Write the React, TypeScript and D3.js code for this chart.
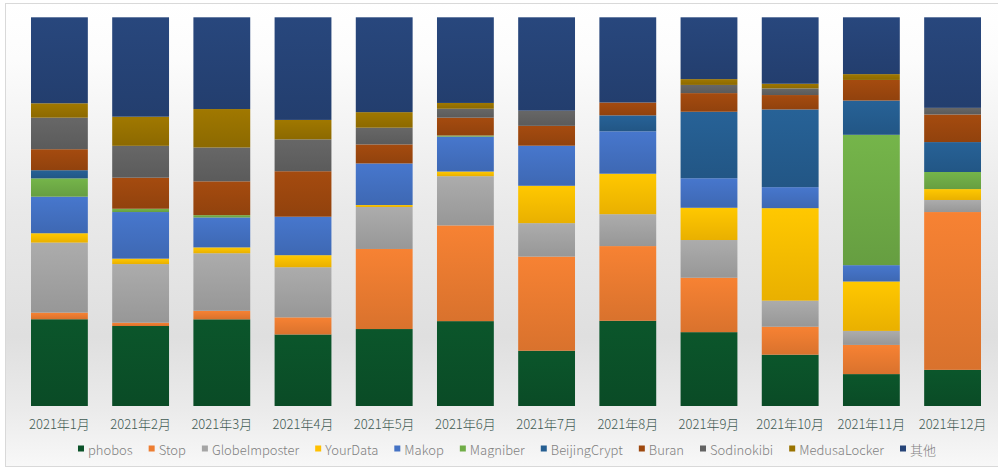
import React, { useEffect, useRef } from "react";
import * as d3 from "d3";

const months = ["2021年1月","2021年2月","2021年3月","2021年4月","2021年5月","2021年6月","2021年7月","2021年8月","2021年9月","2021年10月","2021年11月","2021年12月"];
const seriesNames = ["phobos","Stop","GlobeImposter","YourData","Makop","Magniber","BeijingCrypt","Buran","Sodinokibi","MedusaLocker","其他"];
const seriesColors = ["#0b5229","#ED7D31","#A5A5A5","#FFC000","#4472C4","#70AD47","#255E91","#9E480E","#636363","#997300","#264478"];

const phobos = [22.3,20.6,22.3,18.4,19.8,21.9,14.2,21.9,19.0,13.2,8.2,9.3];
const stop = [1.7,0.85,2.2,4.4,20.6,24.7,24.2,19.2,14.0,7.2,7.5,40.6];
const globeImposter = [18.0,15.1,14.8,12.9,10.8,12.7,8.6,8.2,9.7,6.7,3.6,3.1];
const yourData = [2.4,1.4,1.5,3.1,0.5,1.2,9.6,10.4,8.3,23.8,12.7,2.8];
const makop = [9.4,12.0,7.7,9.9,10.7,9.0,10.3,10.9,7.6,5.4,4.2,0];
const magniber = [4.7,0.85,0.6,0,0,0.3,0,0,0,0,33.5,4.4];
const beijingCrypt = [2.1,0,0,0,0,0,0,4.1,17.1,20.0,8.8,7.7];
const buran = [5.4,8.0,8.7,11.7,4.9,4.6,5.1,3.3,4.8,3.7,5.3,7.1];
const sodinokibi = [8.1,8.2,8.7,8.2,4.3,2.3,3.9,0,2.1,1.7,0,1.7];
const medusaLocker = [3.7,7.5,9.9,5.0,4.0,1.5,0,0,1.5,1.2,1.5,0];
const other = [22.1,25.6,23.6,26.4,24.4,22.1,24.0,21.9,15.9,17.1,14.6,23.3];

const seriesValues = [phobos, stop, globeImposter, yourData, makop, magniber, beijingCrypt, buran, sodinokibi, medusaLocker, other];

export default function App() {
  const ref = useRef<SVGSVGElement | null>(null);

  useEffect(() => {
    const svg = d3.select(ref.current);
    svg.selectAll("*").remove();
    const W = 998, H = 468;
    const font = "'Noto Sans CJK SC', 'Noto Sans', sans-serif";

    const defs = svg.append("defs");
    const bg = defs.append("linearGradient").attr("id", "bg").attr("x1", 0).attr("y1", 0).attr("x2", 0).attr("y2", 1);
    [[0, "#ffffff"], [0.12, "#fcfcfc"], [0.45, "#e9e9e9"], [0.72, "#dfdfdf"], [0.88, "#ebebeb"], [1, "#f8f8f8"]].forEach(([o, c]) =>
      bg.append("stop").attr("offset", o as number).attr("stop-color", c as string));

    seriesColors.forEach((c, i) => {
      const g = defs.append("linearGradient").attr("id", "g" + i).attr("x1", 0).attr("y1", 0).attr("x2", 0).attr("y2", 1);
      g.append("stop").attr("offset", 0).attr("stop-color", d3.color(c)!.brighter(0.12).formatHex());
      g.append("stop").attr("offset", 1).attr("stop-color", d3.color(c)!.darker(0.25).formatHex());
    });

    svg.append("rect").attr("x", 0).attr("y", 0).attr("width", W).attr("height", H).attr("fill", "#ffffff");
    svg.append("rect").attr("x", 5.5).attr("y", 3.5).attr("width", 1000).attr("height", 463)
      .attr("fill", "url(#bg)").attr("stroke", "#d9d9d9").attr("stroke-width", 1);

    const table = months.map((m, i) => {
      const row: any = { month: m };
      seriesNames.forEach((s, j) => { row[s] = seriesValues[j][i]; });
      return row;
    });

    const stacked = d3.stack<any>().keys(seriesNames).offset(d3.stackOffsetExpand)(table);

    const x = d3.scaleBand<string>().domain(months).range([31, 981]).paddingInner(0.3).paddingOuter(0);
    const y = d3.scaleLinear().domain([0, 1]).range([406, 17.3]);

    const g = svg.append("g");
    stacked.forEach((layer, i) => {
      g.append("g").selectAll("rect").data(layer).join("rect")
        .attr("x", (d: any) => x(d.data.month)!)
        .attr("width", x.bandwidth())
        .attr("y", (d: any) => y(d[1]))
        .attr("height", (d: any) => Math.max(0, y(d[0]) - y(d[1])))
        .attr("fill", `url(#g${i})`);
    });

    // x axis labels
    svg.append("g").selectAll("text").data(months).join("text")
      .attr("x", (d) => x(d)! + x.bandwidth() / 2)
      .attr("y", 428.5)
      .attr("text-anchor", "middle")
      .attr("font-family", font)
      .attr("font-size", 13)
      .attr("font-weight", 300)
      .attr("fill", "#3f5a52")
      .text((d) => d);

    // legend
    const lg = svg.append("g");
    const items = seriesNames.map((name, i) => {
      const it = lg.append("g");
      it.append("rect").attr("width", 6).attr("height", 6).attr("y", -5.5).attr("fill", seriesColors[i]);
      const t = it.append("text").attr("x", 10).attr("y", 0).attr("font-family", font).attr("font-size", 13)
        .attr("font-weight", 300)
        .attr("fill", "#808080").attr("dominant-baseline", "middle").text(name);
      const w = 10 + (t.node() as SVGTextElement).getComputedTextLength();
      return { it, w };
    });
    const gap = 16;
    const total = d3.sum(items, (d) => d.w) + gap * (items.length - 1);
    let cx = 507 - total / 2;
    items.forEach(({ it, w }) => {
      it.attr("transform", `translate(${cx},451)`);
      cx += w + gap;
    });
  }, []);

  return (
    <svg ref={ref} width={998} height={468} style={{ position: "absolute", left: 0, top: 0, display: "block" }} />
  );
}
